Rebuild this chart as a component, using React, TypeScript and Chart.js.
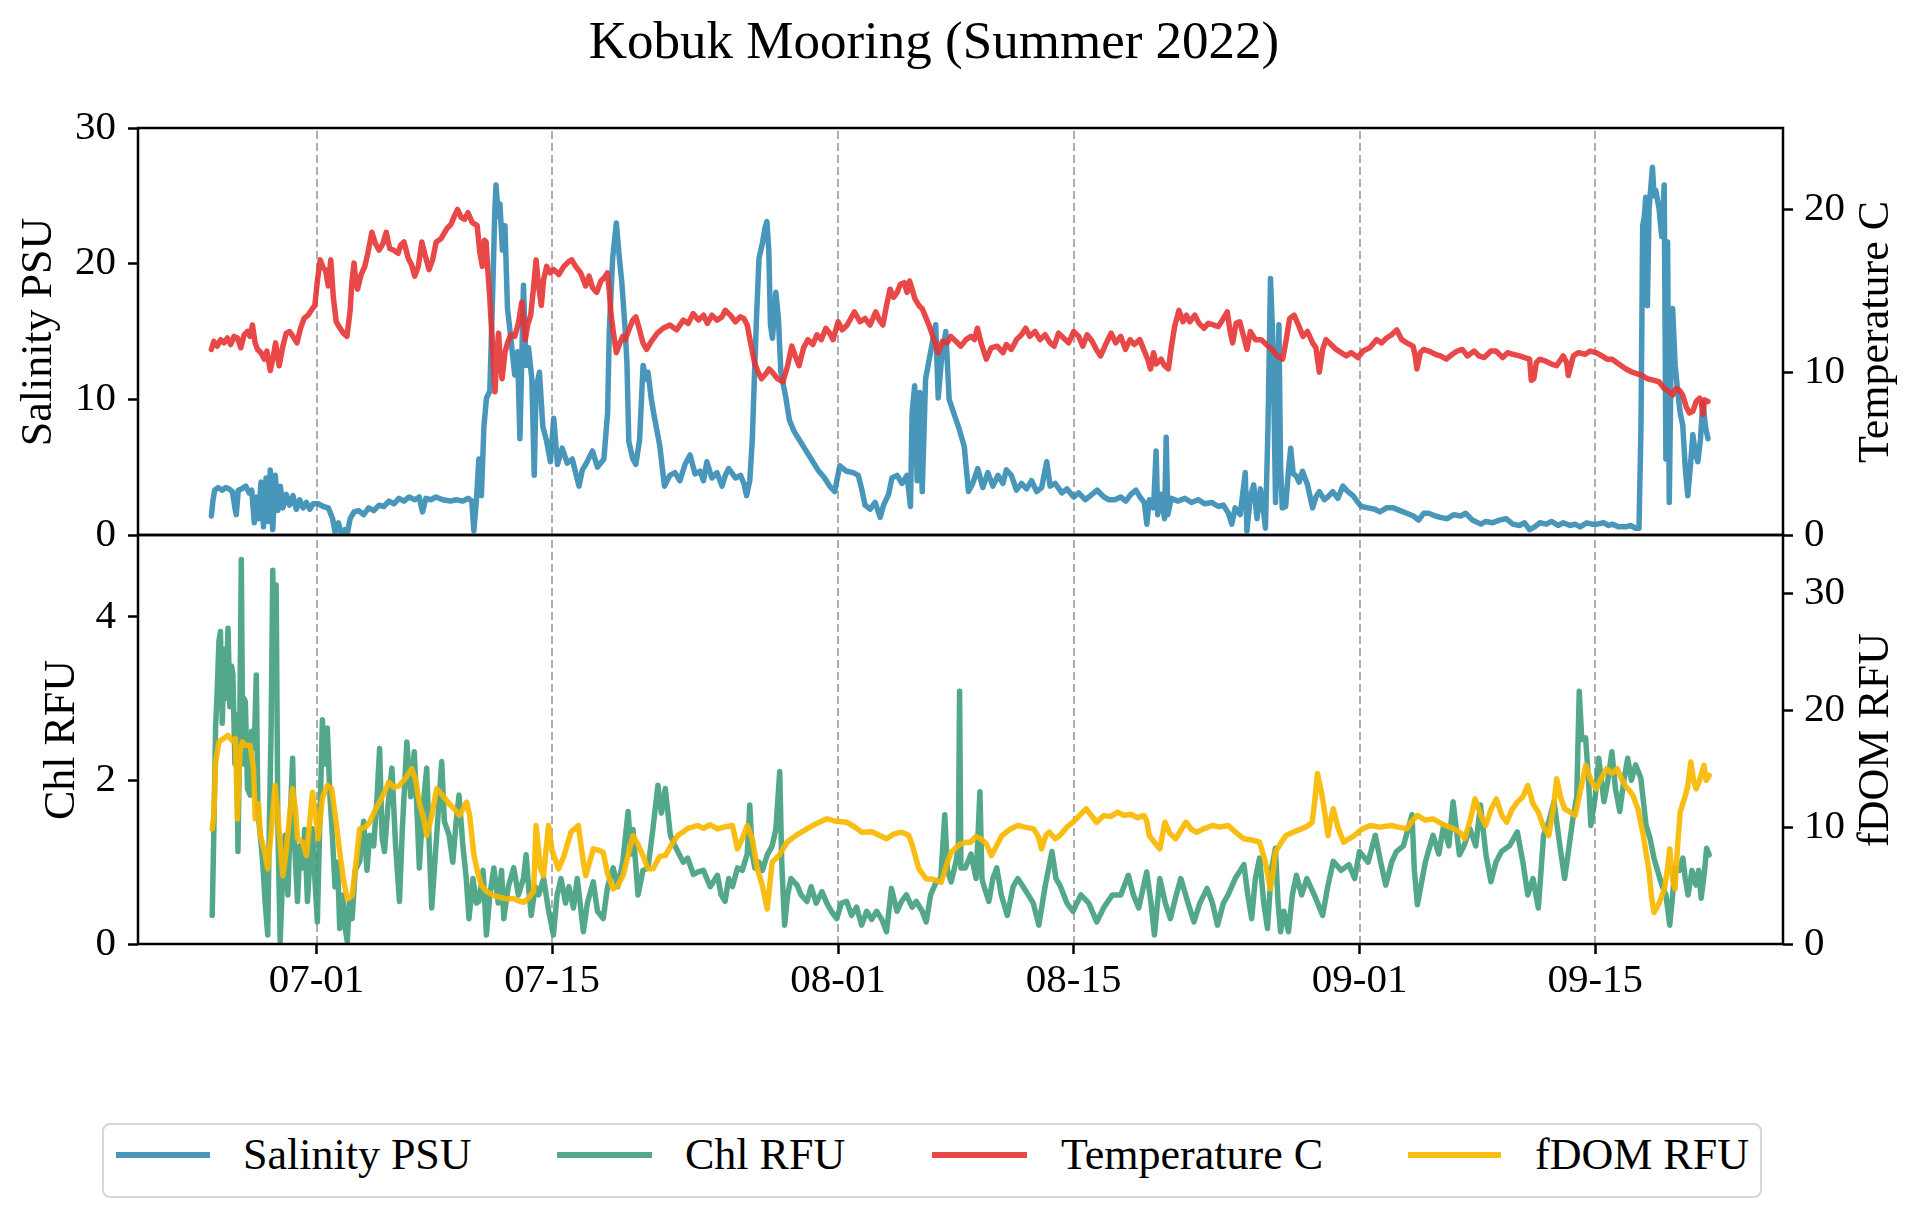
import React, { useEffect, useRef } from 'react';
import { Chart, registerables } from 'chart.js';

Chart.register(...registerables);

const FONT = '"Liberation Serif", "Times New Roman", Times, serif';

// x values are days since 2022-07-01 00:00
const dateTicks = [0, 14, 31, 45, 62, 76];
const dateTickLabels = ['07-01', '07-15', '08-01', '08-15', '09-01', '09-15'];
const dayMin = -10.61;
const dayMax = 87.16;

const salinityTicks = [0, 10, 20, 30];
const temperatureTicks = [0, 10, 20];
const chlTicks = [0, 2, 4];
const fdomTicks = [0, 10, 20, 30];

const salinityPSU: [number, number][] = [
  [-6.25,1.4],[-6.15,2.6],[-6.05,3.3],[-5.85,3.5],[-5.6,3.3],[-5.4,3.5],[-5.2,3.4],[-5.0,3.2],[-4.85,2.0],[-4.77,1.5],
  [-4.65,3.3],[-4.45,3.4],[-4.2,3.6],[-4.0,3.1],[-3.85,3.3],[-3.7,0.9],[-3.6,2.8],[-3.45,1.2],[-3.3,3.9],[-3.15,0.6],
  [-3.0,4.2],[-2.85,1.0],[-2.75,4.8],[-2.6,0.4],[-2.45,4.4],[-2.3,1.8],[-2.15,3.6],[-2.0,2.0],[-1.8,3.0],[-1.6,2.2],
  [-1.4,2.9],[-1.2,1.9],[-1.0,2.6],[-0.8,2.0],[-0.6,2.4],[-0.4,1.9],[-0.2,2.3],[0.1,2.3],[0.4,2.1],[0.7,2.0],
  [0.96,1.2],[1.1,0.2],[1.3,0.9],[1.5,0.0],[1.7,0.4],[1.81,0.0],[2.0,1.2],[2.23,1.7],[2.5,1.8],[2.8,1.5],
  [3.1,2.0],[3.4,1.8],[3.72,2.2],[4.0,2.1],[4.3,2.5],[4.6,2.3],[4.9,2.7],[5.2,2.5],[5.5,2.8],[5.84,2.6],
  [6.1,2.8],[6.3,1.7],[6.5,2.7],[6.8,2.6],[7.1,2.8],[7.5,2.6],[7.96,2.5],[8.3,2.6],[8.7,2.5],[9.0,2.7],
  [9.23,2.5],[9.35,0.3],[9.5,2.5],[9.65,5.6],[9.8,2.9],[9.95,8.0],[10.1,10.1],[10.3,10.6],[10.45,17.0],[10.6,24.0],
  [10.67,25.8],[10.8,23.5],[10.9,24.4],[11.05,21.0],[11.2,22.8],[11.35,16.7],[11.55,14.5],[11.78,11.8],[11.95,13.5],[12.09,7.1],
  [12.2,13.0],[12.3,18.4],[12.45,12.5],[12.6,13.8],[12.8,11.5],[12.94,4.4],[13.05,10.8],[13.25,12.0],[13.45,8.0],[13.68,6.9],
  [13.9,5.4],[14.1,8.6],[14.32,5.2],[14.6,6.4],[14.9,5.3],[15.2,5.6],[15.6,3.6],[15.8,4.8],[16.0,5.2],[16.4,6.2],
  [16.7,5.0],[17.08,5.6],[17.3,9.0],[17.4,15.0],[17.6,20.4],[17.82,23.0],[18.0,20.4],[18.14,18.7],[18.35,15.0],[18.45,12.7],
  [18.56,6.9],[18.8,5.6],[18.98,5.2],[19.2,7.0],[19.41,12.5],[19.6,11.5],[19.7,12.0],[19.9,10.0],[20.05,8.9],[20.4,6.6],
  [20.68,3.6],[21.0,4.4],[21.3,4.6],[21.6,4.0],[21.9,5.2],[22.2,5.9],[22.5,4.5],[22.8,4.7],[23.0,4.0],[23.2,5.4],
  [23.5,4.2],[23.8,4.6],[24.1,3.6],[24.3,4.4],[24.5,4.9],[24.9,4.2],[25.2,4.4],[25.4,3.8],[25.56,2.9],[25.75,4.0],
  [25.9,7.0],[26.03,11.8],[26.15,16.0],[26.3,20.4],[26.5,21.5],[26.65,22.6],[26.77,23.1],[26.88,21.0],[26.98,15.5],[27.1,14.5],
  [27.3,17.9],[27.45,16.0],[27.6,12.0],[27.9,10.1],[28.1,8.5],[28.4,7.6],[28.7,7.0],[29.0,6.4],[29.4,5.6],[29.8,4.8],
  [30.2,4.2],[30.5,3.6],[30.8,3.2],[31.1,5.1],[31.5,4.7],[31.9,4.6],[32.2,4.4],[32.4,3.4],[32.6,2.2],[32.9,1.9],
  [33.2,2.4],[33.5,1.3],[33.7,2.2],[34.0,3.0],[34.2,4.2],[34.5,4.4],[34.8,3.8],[35.1,4.4],[35.3,2.1],[35.4,9.0],
  [35.55,11.0],[35.7,4.0],[35.85,10.5],[36.0,3.2],[36.2,11.5],[36.5,13.5],[36.8,15.5],[36.95,10.1],[37.15,13.0],[37.4,15.0],
  [37.6,10.0],[37.9,8.9],[38.2,7.8],[38.5,6.5],[38.75,3.2],[39.0,3.8],[39.3,4.9],[39.6,3.5],[39.9,4.6],[40.2,3.6],
  [40.5,4.4],[40.8,3.8],[41.0,4.8],[41.3,4.4],[41.6,3.3],[41.9,3.8],[42.2,3.4],[42.5,4.0],[42.8,3.2],[43.1,3.5],
  [43.4,5.4],[43.6,3.6],[43.9,3.8],[44.3,3.1],[44.6,3.4],[45.0,2.8],[45.3,3.1],[45.7,2.6],[46.0,2.9],[46.4,3.3],
  [46.8,2.8],[47.1,2.6],[47.45,2.6],[47.8,2.8],[48.1,2.5],[48.4,3.0],[48.7,3.3],[49.0,2.7],[49.2,2.4],[49.35,0.8],
  [49.5,2.6],[49.75,2.0],[49.9,6.2],[50.0,1.5],[50.2,3.0],[50.4,1.2],[50.5,7.2],[50.6,1.5],[50.8,2.7],[51.2,2.5],
  [51.6,2.7],[52.0,2.4],[52.4,2.6],[52.8,2.3],[53.2,2.4],[53.6,2.1],[53.9,2.2],[54.2,1.6],[54.4,0.8],[54.6,2.0],
  [54.9,1.5],[55.2,4.6],[55.3,0.3],[55.5,2.8],[55.7,3.7],[55.9,1.2],[56.1,3.4],[56.3,1.6],[56.4,0.5],[56.55,8.0],
  [56.7,18.9],[56.85,14.0],[57.0,2.4],[57.1,8.0],[57.2,15.5],[57.3,5.0],[57.4,2.0],[57.6,2.1],[57.75,4.5],[57.9,6.4],
  [58.05,4.5],[58.2,4.4],[58.4,3.9],[58.6,4.7],[58.9,3.7],[59.2,2.0],[59.4,2.8],[59.6,3.2],[59.9,2.6],[60.1,2.8],
  [60.4,3.2],[60.7,2.7],[61.0,3.6],[61.3,3.2],[61.6,2.9],[61.9,2.4],[62.1,2.1],[62.5,2.0],[62.9,1.9],[63.2,1.7],
  [63.6,2.0],[64.0,2.0],[64.4,1.8],[64.8,1.6],[65.2,1.4],[65.5,1.1],[65.8,1.6],[66.1,1.6],[66.5,1.4],[66.8,1.3],
  [67.2,1.2],[67.6,1.5],[68.0,1.4],[68.3,1.6],[68.7,1.1],[69.2,0.8],[69.5,1.0],[69.9,0.9],[70.3,1.1],[70.7,1.2],
  [71.1,0.8],[71.5,0.7],[71.8,0.9],[72.1,0.4],[72.4,0.6],[72.7,0.9],[73.1,0.8],[73.4,1.0],[73.8,0.7],[74.1,0.9],
  [74.5,0.7],[74.8,0.8],[75.1,0.6],[75.5,0.9],[75.8,0.8],[76.1,0.8],[76.5,0.9],[76.8,0.7],[77.0,0.8],[77.4,0.6],
  [77.8,0.6],[78.1,0.7],[78.4,0.5],[78.6,0.5],[78.72,8.0],[78.82,22.8],[78.92,23.5],[79.0,24.9],[79.1,16.9],[79.2,24.0],
  [79.4,27.1],[79.5,25.0],[79.6,25.4],[79.8,24.0],[79.95,22.0],[80.1,25.8],[80.2,5.6],[80.3,21.6],[80.4,2.4],[80.5,12.0],
  [80.6,16.7],[80.75,12.5],[80.9,10.6],[81.05,9.0],[81.2,8.1],[81.35,5.0],[81.5,2.9],[81.65,5.0],[81.8,7.4],[81.95,6.0],
  [82.1,5.4],[82.25,7.0],[82.4,9.8],[82.55,8.0],[82.7,7.1],
];

const temperatureC: [number, number][] = [
  [-6.25,11.4],[-6.1,11.9],[-5.9,11.6],[-5.7,12.0],[-5.5,11.8],[-5.3,12.1],[-5.1,11.7],[-4.9,12.2],[-4.7,12.1],[-4.5,11.5],
  [-4.3,12.3],[-4.1,12.5],[-3.95,12.2],[-3.81,12.9],[-3.65,11.8],[-3.5,11.4],[-3.3,11.2],[-3.1,10.8],[-2.95,11.3],[-2.75,10.1],
  [-2.6,10.8],[-2.43,11.8],[-2.3,10.9],[-2.22,10.4],[-2.0,11.6],[-1.8,12.4],[-1.6,12.5],[-1.4,12.2],[-1.16,11.8],[-0.95,12.7],
  [-0.74,13.3],[-0.5,13.5],[-0.25,13.9],[-0.1,14.1],[0.05,15.6],[0.22,16.9],[0.4,16.4],[0.53,16.3],[0.7,15.3],[0.85,16.9],
  [1.0,14.6],[1.17,13.1],[1.4,12.7],[1.6,12.4],[1.81,12.2],[2.0,13.8],[2.1,15.5],[2.23,16.7],[2.35,15.4],[2.44,15.1],
  [2.65,16.0],[2.87,16.5],[3.05,17.3],[3.29,18.6],[3.5,17.9],[3.72,17.5],[3.95,17.9],[4.14,18.6],[4.35,17.6],[4.57,17.5],
  [4.85,17.3],[5.0,17.8],[5.2,18.0],[5.45,17.0],[5.65,16.6],[5.84,15.9],[6.05,16.5],[6.26,18.0],[6.45,17.2],[6.69,16.3],
  [6.9,16.9],[7.11,18.0],[7.4,18.2],[7.74,18.8],[8.0,19.1],[8.2,19.6],[8.38,20.0],[8.6,19.5],[8.8,19.4],[9.0,19.8],
  [9.25,19.2],[9.55,19.0],[9.7,17.4],[9.86,16.5],[9.98,18.1],[10.08,18.0],[10.2,16.0],[10.29,14.7],[10.45,11.8],[10.61,8.8],
  [10.72,11.2],[10.82,12.4],[10.93,10.6],[11.03,9.6],[11.2,11.2],[11.35,11.8],[11.55,12.3],[11.78,12.2],[12.0,13.0],[12.2,14.3],
  [12.41,12.0],[12.55,12.9],[12.73,13.5],[12.9,15.2],[13.05,16.9],[13.2,15.3],[13.36,14.1],[13.5,15.7],[13.68,16.5],[13.9,16.1],
  [14.1,16.3],[14.4,16.0],[14.7,16.5],[15.0,16.8],[15.17,16.9],[15.4,16.5],[15.7,16.1],[16.0,15.3],[16.2,15.9],[16.4,15.2],
  [16.65,14.9],[16.9,15.6],[17.1,15.8],[17.29,16.1],[17.4,15.0],[17.5,13.6],[17.65,12.4],[17.82,11.2],[18.0,11.7],[18.2,12.2],
  [18.35,12.0],[18.6,12.7],[18.8,13.2],[18.98,13.4],[19.2,12.6],[19.4,11.8],[19.62,11.4],[19.9,11.9],[20.26,12.4],[20.6,12.7],
  [21.0,12.9],[21.4,12.6],[21.8,13.2],[22.1,13.0],[22.38,13.6],[22.7,13.2],[23.0,13.5],[23.23,13.0],[23.5,13.5],[23.8,13.2],
  [24.1,13.4],[24.29,13.8],[24.6,13.5],[24.9,13.1],[25.18,13.4],[25.4,13.3],[25.6,12.9],[25.8,11.8],[26.03,10.6],[26.25,10.0],
  [26.45,9.6],[26.7,9.9],[26.9,10.2],[27.09,10.0],[27.4,9.6],[27.72,9.4],[28.0,10.4],[28.25,11.6],[28.45,11.0],[28.68,10.4],
  [28.95,11.5],[29.21,12.0],[29.5,11.7],[29.74,12.3],[30.0,12.0],[30.27,12.7],[30.5,12.4],[30.7,12.0],[31.0,13.1],[31.25,12.6],
  [31.54,12.9],[31.75,13.3],[31.97,13.7],[32.3,13.1],[32.6,13.3],[32.9,12.9],[33.24,13.7],[33.45,13.2],[33.66,12.9],[33.9,14.2],
  [34.09,15.1],[34.3,14.6],[34.51,14.9],[34.7,15.4],[34.93,15.5],[35.1,14.9],[35.25,15.6],[35.4,15.1],[35.57,14.5],[35.8,14.1],
  [36.0,13.9],[36.2,13.4],[36.4,12.9],[36.7,12.0],[36.95,11.2],[37.2,11.9],[37.48,11.8],[37.7,12.2],[38.0,11.9],[38.3,11.6],
  [38.6,12.0],[38.9,12.2],[39.1,12.0],[39.28,12.7],[39.5,11.8],[39.81,10.8],[40.1,11.5],[40.45,11.6],[40.8,11.2],[41.0,11.7],
  [41.3,11.4],[41.6,12.0],[41.9,12.3],[42.15,12.7],[42.4,12.2],[42.7,12.5],[43.0,12.0],[43.3,12.3],[43.6,11.8],[43.84,11.6],
  [44.1,12.4],[44.4,12.1],[44.7,11.8],[45.0,12.5],[45.3,12.2],[45.54,11.6],[45.8,12.3],[46.1,11.9],[46.35,11.4],[46.6,11.0],
  [46.9,11.7],[47.23,12.4],[47.5,11.8],[47.8,12.2],[48.08,11.4],[48.35,12.0],[48.6,11.7],[48.93,12.0],[49.2,11.3],[49.4,10.8],
  [49.57,10.2],[49.75,11.2],[49.9,10.5],[50.2,10.8],[50.4,10.4],[50.63,10.2],[50.8,11.5],[51.0,12.8],[51.26,13.8],[51.5,13.1],
  [51.7,13.5],[51.9,13.1],[52.2,13.5],[52.45,13.0],[52.75,12.7],[53.0,13.0],[53.3,12.9],[53.6,12.8],[53.9,13.3],[54.13,13.7],
  [54.3,12.5],[54.45,11.8],[54.65,13.0],[54.87,13.1],[55.1,12.2],[55.3,11.4],[55.5,12.5],[55.8,12.0],[56.15,12.0],[56.45,11.7],
  [56.78,11.4],[57.1,11.0],[57.42,10.8],[57.6,11.8],[57.84,13.3],[58.1,13.5],[58.4,12.8],[58.63,12.2],[58.9,12.5],[59.2,11.8],
  [59.4,11.5],[59.6,10.0],[59.8,11.4],[60.0,12.0],[60.3,11.7],[60.6,11.4],[60.9,11.2],[61.2,11.0],[61.5,11.2],[61.9,10.9],
  [62.2,11.3],[62.6,11.5],[63.0,12.0],[63.3,11.8],[63.6,12.1],[63.9,12.3],[64.2,12.6],[64.5,12.0],[64.8,11.8],[65.17,11.6],
  [65.3,11.0],[65.4,10.2],[65.6,11.2],[65.8,11.4],[66.1,11.3],[66.5,11.1],[66.8,11.0],[67.15,10.8],[67.5,11.1],[67.8,11.3],
  [68.1,11.4],[68.4,11.0],[68.8,11.3],[69.1,11.0],[69.4,10.9],[69.8,11.3],[70.1,11.3],[70.5,10.9],[70.8,11.2],[71.1,11.1],
  [71.5,11.0],[71.8,10.9],[72.1,10.8],[72.2,9.5],[72.35,9.6],[72.5,10.6],[72.7,10.8],[73.0,10.7],[73.4,10.5],[73.7,10.4],
  [74.1,11.0],[74.3,10.6],[74.4,9.8],[74.55,10.4],[74.7,11.0],[75.0,11.2],[75.4,11.1],[75.7,11.3],[76.05,11.2],[76.4,11.0],
  [76.7,10.8],[77.0,10.8],[77.4,10.5],[77.83,10.2],[78.2,10.0],[78.5,9.9],[78.8,9.8],[79.1,9.6],[79.5,9.5],[79.8,9.4],
  [80.1,9.0],[80.4,8.8],[80.6,8.6],[80.8,9.0],[81.0,8.9],[81.2,8.6],[81.4,7.9],[81.6,7.5],[81.8,7.6],[82.0,8.2],
  [82.2,8.4],[82.3,8.2],[82.4,7.4],[82.5,8.3],[82.7,8.2],
];

const chlRFU: [number, number][] = [
  [-6.2,0.35],[-6.1,1.4],[-6.0,2.64],[-5.9,3.1],[-5.8,3.7],[-5.71,3.82],[-5.6,2.7],[-5.5,3.6],[-5.4,3.0],[-5.26,3.86],
  [-5.15,2.9],[-5.05,3.4],[-4.97,3.29],[-4.85,2.2],[-4.75,2.8],[-4.67,1.13],[-4.57,2.5],[-4.47,4.7],[-4.38,2.2],[-4.3,3.0],
  [-4.23,2.96],[-4.1,1.9],[-3.94,1.82],[-3.85,2.6],[-3.7,2.4],[-3.58,3.29],[-3.48,1.6],[-3.34,1.33],[-3.2,1.0],[-3.05,0.5],
  [-2.9,0.11],[-2.8,1.5],[-2.7,2.6],[-2.6,4.57],[-2.5,3.0],[-2.4,4.39],[-2.3,1.5],[-2.16,0.03],[-2.0,0.9],[-1.87,1.33],
  [-1.7,0.6],[-1.55,1.6],[-1.42,2.27],[-1.3,1.2],[-1.13,0.52],[-0.98,1.2],[-0.83,0.93],[-0.7,1.4],[-0.54,0.52],[-0.4,1.0],
  [-0.24,1.41],[-0.1,0.8],[0.05,0.27],[0.2,1.5],[0.35,2.74],[0.5,2.2],[0.64,2.64],[0.8,1.8],[0.94,1.33],[1.1,0.7],
  [1.25,1.0],[1.38,0.19],[1.55,0.6],[1.7,0.2],[1.83,0.03],[1.95,0.5],[2.12,0.31],[2.3,0.9],[2.57,1.01],[2.8,1.5],
  [3.0,0.9],[3.16,1.33],[3.4,1.2],[3.6,1.8],[3.75,2.39],[3.9,1.3],[4.04,1.13],[4.25,1.7],[4.48,2.15],[4.7,1.2],
  [4.93,0.52],[5.1,1.4],[5.37,2.47],[5.6,1.8],[5.81,2.35],[6.0,1.5],[6.11,0.93],[6.3,1.6],[6.55,2.15],[6.7,1.2],
  [6.85,0.44],[7.1,1.2],[7.3,1.8],[7.44,2.23],[7.6,1.5],[7.88,1.33],[8.1,1.0],[8.3,1.5],[8.47,1.82],[8.7,1.2],
  [8.9,0.8],[9.06,0.31],[9.3,0.8],[9.5,0.5],[9.65,0.52],[9.9,0.9],[10.1,0.11],[10.3,0.6],[10.54,0.93],[10.8,0.5],
  [11.0,0.9],[11.13,0.31],[11.4,0.7],[11.72,0.93],[12.0,0.6],[12.3,0.8],[12.46,1.09],[12.6,0.7],[12.76,0.35],[13.0,0.7],
  [13.2,0.6],[13.5,0.8],[13.8,0.4],[14.08,0.11],[14.3,0.6],[14.53,0.8],[14.8,0.5],[15.0,0.7],[15.27,0.44],[15.5,0.8],
  [15.86,0.15],[16.1,0.5],[16.45,0.76],[16.7,0.4],[17.04,0.31],[17.3,0.7],[17.63,0.93],[17.9,0.7],[18.2,1.0],[18.52,1.62],
  [18.7,1.1],[18.81,1.4],[19.11,0.6],[19.4,0.9],[19.7,0.93],[19.99,1.4],[20.29,1.94],[20.5,1.6],[20.73,1.9],[21.03,1.33],
  [21.3,1.2],[21.47,1.13],[21.8,1.0],[22.06,1.05],[22.4,0.85],[22.65,0.88],[23.0,0.9],[23.4,0.7],[23.83,0.84],[24.05,0.6],
  [24.28,0.52],[24.5,0.8],[24.72,0.7],[25.02,0.93],[25.3,0.9],[25.6,1.1],[25.75,1.7],[25.9,1.1],[26.05,0.93],[26.3,1.0],
  [26.5,0.9],[26.79,1.09],[27.08,1.2],[27.3,1.4],[27.53,2.11],[27.65,1.0],[27.82,0.23],[28.0,0.6],[28.2,0.8],[28.56,0.72],
  [28.8,0.6],[29.15,0.52],[29.4,0.7],[29.7,0.5],[30.04,0.64],[30.33,0.5],[30.6,0.4],[30.92,0.31],[31.2,0.5],[31.51,0.52],
  [31.8,0.35],[32.1,0.45],[32.4,0.23],[32.7,0.4],[33.0,0.3],[33.29,0.4],[33.6,0.3],[33.88,0.15],[34.17,0.68],[34.5,0.4],
  [34.77,0.52],[35.06,0.6],[35.4,0.45],[35.65,0.52],[36.0,0.4],[36.24,0.27],[36.5,0.6],[36.83,0.76],[37.1,0.8],[37.34,1.58],
  [37.5,0.9],[37.72,0.76],[38.0,1.0],[38.15,1.2],[38.22,3.09],[38.3,0.93],[38.56,0.93],[38.9,1.1],[39.2,0.8],[39.43,1.86],
  [39.55,0.8],[39.65,0.72],[39.96,0.52],[40.2,0.8],[40.43,0.93],[40.7,0.6],[41.06,0.35],[41.4,0.7],[41.68,0.8],[42.0,0.7],
  [42.3,0.6],[42.6,0.5],[42.93,0.23],[43.3,0.7],[43.71,1.13],[43.95,0.8],[44.18,0.72],[44.6,0.5],[44.96,0.4],[45.2,0.5],
  [45.43,0.6],[45.9,0.5],[46.37,0.27],[46.8,0.45],[47.3,0.6],[47.8,0.6],[48.25,0.84],[48.55,0.6],[48.87,0.44],[49.34,0.88],
  [49.6,0.5],[49.8,0.11],[50.12,0.8],[50.45,0.5],[50.75,0.31],[51.1,0.6],[51.37,0.8],[51.8,0.5],[52.15,0.27],[52.5,0.5],
  [52.93,0.68],[53.25,0.5],[53.55,0.23],[53.9,0.5],[54.18,0.6],[54.6,0.8],[55.12,0.97],[55.35,0.6],[55.58,0.31],[55.8,0.8],
  [56.05,1.05],[56.3,0.5],[56.52,0.19],[56.75,0.9],[56.99,1.17],[57.15,0.5],[57.3,0.15],[57.5,0.4],[57.77,0.15],[58.0,0.6],
  [58.24,0.84],[58.55,0.6],[58.86,0.8],[59.3,0.6],[59.8,0.35],[60.1,0.7],[60.43,1.01],[60.9,0.9],[61.36,0.97],[61.7,0.8],
  [61.99,1.13],[62.5,1.0],[62.93,1.33],[63.25,1.0],[63.55,0.72],[63.9,1.0],[64.18,1.13],[64.6,1.2],[65.11,1.58],[65.25,0.9],
  [65.43,0.48],[65.9,1.0],[66.36,1.33],[66.7,1.1],[66.99,1.45],[67.3,1.2],[67.55,1.74],[67.93,1.09],[68.2,1.2],[68.55,1.41],
  [68.9,1.2],[69.18,1.7],[69.5,1.1],[69.8,0.76],[70.1,1.0],[70.43,1.13],[70.9,1.2],[71.37,1.37],[71.7,1.0],[71.99,0.6],
  [72.3,0.8],[72.62,0.44],[72.93,1.33],[73.25,1.5],[73.55,1.74],[73.9,1.2],[74.18,0.8],[74.45,1.2],[74.65,1.5],[74.9,1.8],
  [75.05,3.09],[75.2,2.5],[75.43,2.52],[75.6,2.0],[75.74,1.45],[76.0,1.8],[76.21,2.27],[76.52,1.74],[76.75,2.0],[76.99,2.35],
  [77.2,1.9],[77.46,1.62],[77.7,2.0],[77.93,2.27],[78.15,2.0],[78.4,2.19],[78.71,2.03],[79.02,1.45],[79.25,1.3],[79.49,1.05],
  [79.7,0.9],[79.96,0.72],[80.2,0.6],[80.43,0.23],[80.6,0.6],[80.74,0.93],[81.0,0.9],[81.21,1.05],[81.35,0.8],[81.52,0.6],
  [81.75,0.9],[81.99,0.72],[82.15,0.9],[82.3,0.56],[82.5,0.9],[82.62,1.17],[82.77,1.09],
];

const fdomRFU: [number, number][] = [
  [-6.2,9.85],[-6.1,11.0],[-6.0,15.5],[-5.8,17.3],[-5.5,17.6],[-5.26,17.85],[-5.0,17.4],[-4.82,17.6],[-4.7,10.7],[-4.55,16.5],
  [-4.4,17.3],[-4.2,17.0],[-3.94,16.99],[-3.75,15.0],[-3.64,10.71],[-3.45,12.0],[-3.34,9.28],[-3.1,8.0],[-2.9,6.43],[-2.7,9.5],
  [-2.46,13.56],[-2.3,11.0],[-2.0,5.85],[-1.8,8.0],[-1.6,11.0],[-1.42,13.28],[-1.25,11.5],[-1.13,9.0],[-0.83,8.71],[-0.6,7.57],
  [-0.4,10.5],[-0.24,12.99],[-0.05,11.0],[0.1,9.0],[0.35,12.5],[0.64,13.56],[0.9,13.28],[1.2,10.0],[1.38,7.85],[1.6,5.5],
  [1.83,3.86],[2.12,4.14],[2.35,7.0],[2.57,9.85],[2.9,10.0],[3.16,10.42],[3.5,11.5],[3.75,12.14],[4.04,13.0],[4.3,13.85],
  [4.6,13.4],[4.93,13.56],[5.3,14.2],[5.66,15.0],[5.9,14.0],[6.1,12.14],[6.4,10.5],[6.55,9.28],[6.85,11.0],[7.14,13.28],
  [7.5,12.71],[7.88,12.0],[8.18,11.57],[8.5,11.0],[8.92,12.14],[9.1,11.0],[9.36,7.57],[9.6,6.0],[9.8,5.0],[10.1,4.5],
  [10.54,4.14],[10.9,4.0],[11.3,3.86],[11.7,3.9],[12.0,3.7],[12.31,3.57],[12.6,3.9],[12.9,4.5],[13.05,10.14],[13.3,6.5],
  [13.49,5.85],[13.79,10.14],[14.0,8.0],[14.38,6.43],[14.7,7.5],[15.12,9.57],[15.56,10.14],[15.86,7.0],[16.0,5.85],[16.45,8.14],
  [16.8,8.0],[17.04,7.85],[17.3,6.0],[17.63,4.71],[17.9,5.0],[18.22,5.85],[18.5,7.5],[18.81,9.28],[19.11,8.5],[19.4,7.57],
  [19.7,6.43],[19.99,6.43],[20.4,7.5],[20.73,7.57],[21.1,8.5],[21.47,9.28],[21.8,9.6],[22.06,9.9],[22.35,10.0],[22.65,10.14],
  [23.0,9.9],[23.4,10.2],[23.83,9.85],[24.2,10.0],[24.72,10.14],[25.02,8.14],[25.3,9.0],[25.6,10.14],[25.9,9.0],[26.2,6.43],
  [26.5,5.0],[26.79,3.0],[27.08,7.0],[27.5,7.6],[27.97,8.71],[28.5,9.3],[29.15,9.85],[29.7,10.3],[30.33,10.71],[30.9,10.5],
  [31.51,10.42],[32.0,10.0],[32.4,9.57],[33.0,9.6],[33.88,9.0],[34.3,9.4],[34.77,9.57],[35.2,9.3],[35.4,8.5],[35.8,6.43],
  [36.24,5.57],[36.54,5.57],[37.13,5.28],[37.5,7.0],[37.72,7.86],[38.2,8.5],[38.6,8.71],[38.87,8.71],[39.2,9.2],[39.49,9.0],
  [39.8,8.6],[40.12,7.57],[40.45,8.5],[40.74,9.28],[41.2,9.8],[41.68,10.14],[42.1,10.0],[42.62,9.85],[42.9,9.2],[43.09,8.14],
  [43.35,9.3],[43.56,9.57],[43.9,9.0],[44.18,9.28],[44.6,10.0],[44.96,10.42],[45.35,11.0],[45.74,11.57],[46.05,11.0],[46.37,10.42],
  [46.8,11.0],[47.2,10.9],[47.62,11.28],[48.0,11.0],[48.4,11.1],[48.8,10.8],[49.18,11.0],[49.35,10.5],[49.49,9.28],[49.8,8.7],
  [50.12,8.14],[50.43,10.42],[50.7,9.5],[51.06,9.0],[51.4,9.8],[51.68,10.42],[52.0,9.8],[52.3,9.57],[52.8,9.9],[53.24,10.14],
  [53.7,10.0],[54.18,10.14],[54.6,9.6],[55.12,9.0],[55.6,8.9],[56.05,8.71],[56.4,7.0],[56.68,4.71],[56.85,6.0],[56.99,7.85],
  [57.3,8.6],[57.62,9.28],[58.1,9.6],[58.55,9.85],[58.9,10.1],[59.18,10.42],[59.35,12.5],[59.49,14.6],[59.65,13.5],[59.8,12.42],
  [60.0,10.5],[60.12,9.28],[60.25,10.5],[60.43,11.57],[60.7,10.0],[61.05,8.71],[61.35,9.0],[61.68,9.28],[62.1,9.8],[62.62,10.14],
  [63.2,10.0],[63.86,10.14],[64.3,10.0],[64.8,9.85],[65.1,10.5],[65.43,11.0],[65.9,10.6],[66.36,10.71],[67.0,10.2],[67.61,9.85],
  [68.0,9.5],[68.24,9.0],[68.55,10.5],[68.86,12.42],[69.2,11.0],[69.49,10.14],[69.8,11.5],[70.12,12.42],[70.45,11.0],[70.74,10.42],
  [71.05,11.5],[71.37,12.14],[71.7,12.6],[71.99,13.56],[72.3,12.0],[72.62,11.28],[72.93,10.0],[73.24,9.28],[73.5,11.5],[73.71,14.13],
  [73.95,12.5],[74.18,11.57],[74.5,11.3],[74.81,11.0],[75.1,13.0],[75.43,15.28],[75.75,14.0],[76.05,13.28],[76.4,14.3],[76.68,15.0],
  [77.0,14.6],[77.3,15.0],[77.55,14.2],[77.77,13.56],[78.0,13.2],[78.24,12.71],[78.55,11.5],[78.86,9.28],[79.02,7.8],[79.18,6.43],
  [79.35,4.0],[79.49,2.71],[79.8,3.5],[80.11,4.71],[80.3,6.5],[80.43,8.14],[80.6,5.5],[80.74,4.71],[80.9,8.5],[81.05,11.28],
  [81.2,12.0],[81.36,12.71],[81.5,13.5],[81.68,15.57],[81.85,14.0],[81.99,13.28],[82.2,14.0],[82.46,15.28],[82.6,14.0],[82.77,14.42],
];

const seriesNames = ['Salinity PSU', 'Chl RFU', 'Temperature C', 'fDOM RFU'];
const seriesStroke = ['rgba(52,139,178,0.9)', 'rgba(65,158,125,0.9)', 'rgba(229,52,52,0.9)', 'rgba(249,183,0,0.92)'];
const seriesSwatch = ['#4897ba', '#54a88a', '#e84848', '#f9be14'];

const W = 1920;
const H = 1219;
const AREA = { left: 138, right: 1783, top: 128, mid: 535, bottom: 944 };

// dashed vertical guides at each date tick, under the data
const dateGuides = {
  id: 'dateGuides',
  beforeDatasetsDraw(chart: any) {
    const { ctx, chartArea: a, scales } = chart;
    ctx.save();
    ctx.strokeStyle = 'rgba(140,140,140,0.7)';
    ctx.lineWidth = 2;
    ctx.setLineDash([8, 4]);
    for (const v of dateTicks) {
      const px = Math.round(scales.x.getPixelForValue(v));
      ctx.beginPath();
      ctx.moveTo(px, a.bottom);
      ctx.lineTo(px, a.top);
      ctx.stroke();
    }
    ctx.restore();
  },
};

// black box around each panel
const panelFrame = {
  id: 'panelFrame',
  afterDatasetsDraw(chart: any) {
    const { ctx, chartArea: a } = chart;
    ctx.save();
    ctx.setLineDash([]);
    ctx.strokeStyle = '#000';
    ctx.lineWidth = 2.5;
    ctx.strokeRect(a.left, a.top, a.right - a.left, a.bottom - a.top);
    ctx.restore();
  },
};

const tickFont = { family: FONT, size: 41 };

function valueAxis(position: 'left' | 'right', min: number, max: number, values: number[]) {
  return {
    type: 'linear',
    position,
    min,
    max,
    afterBuildTicks: (s: any) => {
      s.ticks = values.map((v) => ({ value: v }));
    },
    afterFit: (s: any) => {
      s.width = position === 'left' ? AREA.left : W - AREA.right;
    },
    ticks: { font: tickFont, color: '#000', padding: position === 'left' ? 12 : 11, autoSkip: false },
    grid: { display: true, drawOnChartArea: false, drawTicks: true, tickLength: 10, tickWidth: 2.5, tickColor: '#000' },
    border: { display: false },
  };
}

function lineSet(label: string, pts: [number, number][], axis: string, color: string, order: number) {
  return {
    label,
    data: pts.map(([x, y]) => ({ x, y })),
    yAxisID: axis,
    borderColor: color,
    backgroundColor: color,
    borderWidth: 5.5,
    pointRadius: 0,
    tension: 0,
    borderJoinStyle: 'round',
    borderCapStyle: 'round',
    fill: false,
    clip: 0,
    order,
  };
}

function topConfig(): any {
  return {
    type: 'line',
    data: {
      datasets: [
        lineSet(seriesNames[2], temperatureC, 'yT', seriesStroke[2], 0),
        lineSet(seriesNames[0], salinityPSU, 'yS', seriesStroke[0], 1),
      ],
    },
    options: {
      responsive: false,
      animation: false,
      events: [],
      layout: { padding: { top: AREA.top, bottom: H - AREA.mid, left: 0, right: 0 } },
      plugins: { legend: { display: false }, tooltip: { enabled: false } },
      scales: {
        x: { type: 'linear', min: dayMin, max: dayMax, bounds: 'data', display: false },
        yS: valueAxis('left', 0, 30, salinityTicks),
        yT: valueAxis('right', 0, 25, temperatureTicks),
      },
    },
    plugins: [dateGuides, panelFrame],
  };
}

function bottomConfig(): any {
  const xAxisHeight = 100;
  return {
    type: 'line',
    data: {
      datasets: [
        lineSet(seriesNames[3], fdomRFU, 'yF', seriesStroke[3], 0),
        lineSet(seriesNames[1], chlRFU, 'yC', seriesStroke[1], 1),
      ],
    },
    options: {
      responsive: false,
      animation: false,
      events: [],
      layout: { padding: { top: AREA.mid, bottom: H - AREA.bottom - xAxisHeight, left: 0, right: 0 } },
      plugins: { legend: { display: false }, tooltip: { enabled: false } },
      scales: {
        x: {
          type: 'linear',
          position: 'bottom',
          min: dayMin,
          max: dayMax,
          bounds: 'data',
          afterBuildTicks: (s: any) => {
            s.ticks = dateTicks.map((v) => ({ value: v }));
          },
          afterFit: (s: any) => {
            s.height = xAxisHeight;
          },
          ticks: {
            font: tickFont,
            color: '#000',
            padding: 3,
            autoSkip: false,
            maxRotation: 0,
            callback: (v: number) => {
              const i = dateTicks.indexOf(v);
              return i >= 0 ? dateTickLabels[i] : '';
            },
          },
          grid: { display: true, drawOnChartArea: false, drawTicks: true, tickLength: 10, tickWidth: 2.5, tickColor: '#000' },
          border: { display: false },
        },
        yC: valueAxis('left', 0, 5, chlTicks),
        yF: valueAxis('right', 0, 35, fdomTicks),
      },
    },
    plugins: [dateGuides, panelFrame],
  };
}

const textBase: React.CSSProperties = {
  position: 'absolute',
  fontFamily: FONT,
  color: '#000',
  whiteSpace: 'nowrap',
};

function AxisTitle({ text, cx, cy }: { text: string; cx: number; cy: number }) {
  return (
    <div
      style={{
        ...textBase,
        left: cx - 200,
        top: cy - 22,
        width: 400,
        height: 44,
        lineHeight: '44px',
        fontSize: 44,
        textAlign: 'center',
        transform: 'rotate(-90deg)',
      }}
    >
      {text}
    </div>
  );
}

const legendHandles = [
  { x1: 116, x2: 210, text: 243 },
  { x1: 557, x2: 652, text: 685 },
  { x1: 932, x2: 1027, text: 1061 },
  { x1: 1408, x2: 1501, text: 1535 },
];
const legendOrder = [0, 1, 2, 3];

export default function App() {
  const topRef = useRef<HTMLCanvasElement | null>(null);
  const bottomRef = useRef<HTMLCanvasElement | null>(null);

  useEffect(() => {
    const charts: Chart[] = [];
    if (topRef.current) charts.push(new Chart(topRef.current, topConfig()));
    if (bottomRef.current) charts.push(new Chart(bottomRef.current, bottomConfig()));
    return () => charts.forEach((c) => c.destroy());
  }, []);

  const canvasStyle: React.CSSProperties = { position: 'absolute', left: 0, top: 0, width: W, height: H, display: 'block' };

  return (
    <div style={{ position: 'absolute', left: 0, top: 0, width: W, height: H, background: '#fff', overflow: 'hidden' }}>
      <canvas ref={bottomRef} width={W} height={H} style={canvasStyle} />
      <canvas ref={topRef} width={W} height={H} style={canvasStyle} />

      <div
        style={{
          ...textBase,
          left: 0,
          top: 14,
          width: 1868,
          height: 53,
          lineHeight: '53px',
          fontSize: 53,
          textAlign: 'center',
        }}
      >
        Kobuk Mooring (Summer 2022)
      </div>

      <AxisTitle text="Salinity PSU" cx={37} cy={(AREA.top + AREA.mid) / 2} />
      <AxisTitle text="Chl RFU" cx={60} cy={(AREA.mid + AREA.bottom) / 2} />
      <AxisTitle text="Temperature C" cx={1874} cy={(AREA.top + AREA.mid) / 2} />
      <AxisTitle text="fDOM RFU" cx={1874} cy={(AREA.mid + AREA.bottom) / 2} />

      <div
        style={{
          position: 'absolute',
          left: 102,
          top: 1123,
          width: 1660,
          height: 75,
          boxSizing: 'border-box',
          border: '2px solid #d6d6d6',
          borderRadius: 8,
          background: '#fff',
        }}
      />
      {legendOrder.map((si, i) => (
        <React.Fragment key={seriesNames[si]}>
          <div
            style={{
              position: 'absolute',
              left: legendHandles[i].x1,
              top: 1152,
              width: legendHandles[i].x2 - legendHandles[i].x1,
              height: 6,
              background: seriesSwatch[si],
            }}
          />
          <div
            style={{
              ...textBase,
              left: legendHandles[i].text,
              top: 1133,
              height: 44,
              lineHeight: '44px',
              fontSize: 44,
            }}
          >
            {seriesNames[si]}
          </div>
        </React.Fragment>
      ))}
    </div>
  );
}
